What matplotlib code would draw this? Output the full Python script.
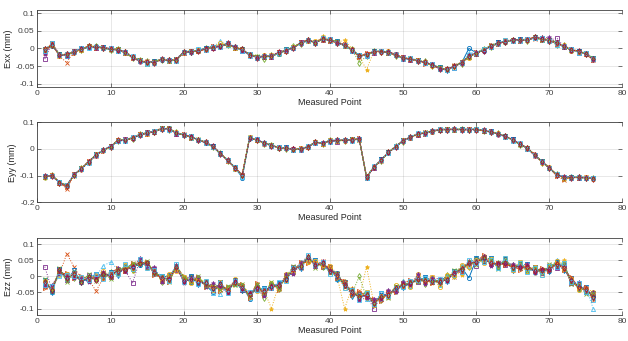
import numpy as np
import matplotlib
matplotlib.use("Agg")
from matplotlib import pyplot as plt

plt.rcParams['font.family'] = ['Liberation Sans', 'DejaVu Sans']
plt.rcParams['axes.unicode_minus'] = False

points = np.arange(1, 77)

# mean curves (mm)
exx_base = [-0.004, 0.010, -0.018, -0.018, -0.009, -0.002, 0.005, 0.004, 0.001, -0.002,
            -0.004, -0.011, -0.025, -0.035, -0.040, -0.038, -0.032, -0.034, -0.032, -0.011,
            -0.009, -0.006, -0.002, 0.004, 0.006, 0.012, 0.004, -0.004, -0.018, -0.025,
            -0.023, -0.021, -0.013, -0.006, 0.003, 0.015, 0.023, 0.017, 0.027, 0.023,
            0.017, 0.008, -0.004, -0.021, -0.018, -0.009, -0.009, -0.011, -0.018, -0.028,
            -0.030, -0.034, -0.040, -0.047, -0.056, -0.061, -0.051, -0.040, -0.023, -0.013,
            -0.004, 0.006, 0.015, 0.020, 0.023, 0.023, 0.025, 0.030, 0.027, 0.023,
            0.015, 0.006, -0.004, -0.009, -0.015, -0.030]
eyy_base = [-0.103, -0.100, -0.125, -0.138, -0.097, -0.074, -0.048, -0.023, -0.004, 0.009,
            0.031, 0.034, 0.041, 0.053, 0.060, 0.066, 0.076, 0.075, 0.060, 0.053,
            0.045, 0.034, 0.025, 0.009, -0.017, -0.042, -0.071, -0.099, 0.041, 0.034,
            0.022, 0.013, 0.005, 0.003, -0.001, 0.000, 0.008, 0.025, 0.022, 0.031,
            0.031, 0.033, 0.034, 0.038, -0.106, -0.068, -0.042, -0.013, 0.009, 0.031,
            0.043, 0.056, 0.060, 0.066, 0.073, 0.073, 0.073, 0.073, 0.073, 0.073,
            0.069, 0.064, 0.056, 0.047, 0.034, 0.018, 0.003, -0.023, -0.048, -0.071,
            -0.097, -0.106, -0.106, -0.107, -0.107, -0.110]
ezz_base = [-0.020, -0.040, 0.015, -0.003, 0.005, -0.013, -0.005, -0.005, 0.003, 0.005,
            0.015, 0.025, 0.027, 0.045, 0.037, 0.015, -0.010, -0.005, 0.027, -0.010,
            -0.010, -0.013, -0.025, -0.035, -0.030, -0.040, -0.020, -0.035, -0.060, -0.033,
            -0.050, -0.030, -0.030, -0.005, 0.020, 0.035, 0.055, 0.040, 0.037, 0.020,
            0.000, -0.025, -0.050, -0.060, -0.060, -0.080, -0.065, -0.055, -0.040, -0.025,
            -0.025, -0.005, -0.015, -0.010, -0.020, -0.005, 0.007, 0.025, 0.037, 0.047,
            0.055, 0.045, 0.035, 0.045, 0.027, 0.033, 0.025, 0.020, 0.015, 0.025,
            0.037, 0.030, -0.015, -0.030, -0.043, -0.060]

# per-run deviations from the mean curve, in micrometres (one row per run)
exx_dev = [
    [2,-3,1,0,-2,1,-1,2,0,-1, 1,-2,0,1,-1,2,0,-2,1,0, -1,2,1,-2,0,1,-1,0,2,-1, 1,0,-2,1,2,-1,0,1,-2,0,
     1,-1,2,0,-1,1,0,-2,1,0, -1,2,0,1,-1,0,2,-1,23,1, -2,0,1,-1,2,0,-1,1,0,-2, 1,0,-1,2,0,1],
    [-8,3,-4,-22,2,-3,1,-2,3,0, -3,1,2,-2,3,-1,2,1,-3,2, 0,-2,3,1,-1,2,-3,1,0,2, -2,3,1,-1,0,3,-2,2,1,-3,
     2,0,-1,-3,2,-2,1,0,3,-1, 2,-3,1,0,2,-1,3,-2,1,-3, 2,1,-2,3,0,-1,2,-3,1,2, 0,-2,3,1,-2,-3],
    [4,-2,3,1,-3,2,0,3,-1,2, -1,3,-2,0,2,-3,1,3,-2,1, 3,-1,0,2,5,-2,3,-1,2,0, 3,-2,1,2,-1,0,3,-3,8,2,
     -1,17,3,-2,-42,1,-2,3,0,2, -3,1,2,-1,3,0,-2,4,3,1, 2,-3,0,2,-1,3,1,2,5,-1, 0,2,-2,1,3,-1],
    [-26,5,2,-3,1,-1,3,-2,1,2, 0,-3,1,2,-2,0,3,-1,2,-3, 1,2,-1,-3,0,2,1,-2,3,-1, 0,-3,2,1,-2,3,0,-1,-2,3,
     1,0,-2,2,1,-3,2,-1,0,3, -2,1,-1,3,0,2,-3,1,0,-2, 3,-1,2,0,-2,1,3,-1,2,0, 15,-2,1,-3,2,0],
    [-3,2,-1,3,0,-2,1,3,-1,-3, 2,0,-2,1,3,-1,-2,2,0,1, -2,1,3,-1,2,-3,0,2,-2,1, -6,2,-1,0,3,-2,1,-3,2,0,
     -2,3,1,-19,-4,2,-1,0,-3,2, 1,-1,3,-2,0,2,1,-3,-2,0, 3,-2,1,-1,2,0,-3,2,1,-2, -5,3,-1,0,-2,1],
    [6,-1,2,-3,1,3,-2,0,2,-1, -3,1,0,-2,-4,3,1,-2,0,2, -1,3,0,1,14,-1,2,0,-3,1, 2,-1,3,-2,0,1,-3,2,0,-2,
     3,-1,0,2,-3,1,3,-2,1,-1, 0,2,-2,1,3,-1,2,0,10,3, -1,2,-3,0,1,-2,3,-1,-3,2, -4,1,0,-2,3,2],
    [-1,1,-2,0,2,-1,0,1,-1,2, 0,-1,1,0,-2,1,-1,0,2,-1, 1,0,-1,2,0,-1,1,-2,0,1, 2,-1,0,1,-1,0,2,-1,1,0,
     -2,1,0,-1,2,0,1,-1,0,2, 0,-1,1,-2,0,1,-1,2,0,-1, 1,0,-2,1,-1,2,0,-1,1,0, 2,-1,0,1,-1,0],
    [1,-2,3,-1,0,2,-3,1,2,-1, 3,0,-2,1,-1,3,-2,0,1,2, -3,1,2,0,-1,3,-2,1,-1,0, 2,-3,1,3,-1,0,-2,2,1,-1,
     3,-2,0,1,-2,3,-1,2,0,-3, 1,2,-1,0,3,-2,1,-1,2,0, -3,1,2,-1,0,3,-2,1,-1,2, 0,-3,1,2,-1,3],
    [-4,6,-1,2,-3,1,0,-2,3,1, -1,2,-3,0,2,-1,3,1,-2,0, 2,-1,-3,2,1,0,-2,3,-1,2, 1,-2,3,0,-3,2,1,-1,3,-2,
     0,4,-1,-3,5,0,2,-1,-2,3, 0,1,-3,2,-1,3,0,-2,1,2, -1,3,-2,0,2,-1,1,3,-2,0, -3,2,1,-1,0,-2],
    [3,1,-3,2,-1,-2,3,0,-1,1, 2,-3,1,2,0,-2,1,-1,3,-2, 0,2,-1,1,8,2,-3,0,1,-2, 3,1,-1,-2,2,0,-1,3,-2,1,
     -2,0,3,-1,1,-2,0,3,-1,2, -1,0,2,-3,1,-1,2,0,-3,1, 2,0,-1,3,-2,1,0,-1,3,-2, 1,3,-2,0,1,-1],
    [-12,2,-1,-3,3,0,-2,1,3,-1, 0,2,-1,-3,1,2,-2,0,3,1, -1,-2,2,3,-1,0,1,-3,2,0, -2,1,3,-1,0,-2,2,1,-3,0,
     2,-1,1,0,-3,2,-1,1,3,-2, 0,-1,2,1,-3,0,2,-1,1,3, -2,0,1,-3,2,1,-1,0,4,8, 2,1,-3,0,1,-2],
    [0,-1,2,-2,1,-3,2,0,1,-2, 3,-1,0,2,-3,1,2,-2,-1,0, 3,-2,1,0,2,-1,-3,1,2,3, -1,0,-2,3,1,-1,2,-3,0,1,
     3,-2,0,1,-2,1,3,-1,-2,0, 2,-2,1,-1,3,0,-1,2,0,-2, 1,3,-1,-2,0,2,-1,1,-3,1, 3,-2,0,-1,2,3],
    [-2,4,0,1,-1,2,-3,1,0,3, -2,1,3,-1,0,-2,1,2,-3,1, 0,3,-2,1,-1,2,0,-3,1,-1, 2,0,-1,2,-3,1,0,-2,2,3,
     -1,1,-3,2,0,-1,2,1,-2,0, 3,-1,0,2,-2,1,-3,0,4,1, 2,-1,0,3,-2,0,1,-1,2,-3, 0,1,2,-3,1,0],
    [1,0,-1,1,-2,0,2,-1,1,0, -1,2,0,-1,1,-2,1,0,-1,2, 0,-1,1,-2,0,2,-1,1,0,-1, 1,-1,2,0,-1,1,0,-2,1,0,
     -1,2,0,-1,1,-1,0,2,-1,1, 0,-2,1,0,-1,2,0,-1,1,0, -2,1,0,-1,2,0,-1,1,0,-2, 1,0,-1,2,-1,0],
]
eyy_dev = [
    [-2,1,0,-1,2,0,1,-1,0,2, -1,0,1,-2,0,1,-1,2,0,-1, 1,0,-2,1,0,-1,2,-8,0,1, -1,0,2,-1,0,1,-2,0,1,-1,
     0,2,-1,0,-3,1,0,-1,2,0, -1,1,0,-2,1,0,2,-1,0,1, -1,0,2,-1,1,0,-2,1,0,-1, 1,0,-1,2,0,-1],
    [3,-2,1,-12,-1,2,0,-3,1,-2, 2,-1,3,0,-2,1,3,-1,-2,2, 0,1,-3,2,-1,0,3,-2,1,0, -2,3,-1,0,2,-3,1,0,-2,3,
     1,-1,2,-3,3,0,-2,1,3,-1, 0,-3,2,1,-1,3,-2,0,1,-3, 2,0,-1,3,-2,1,0,-3,2,1, -1,-12,2,-3,1,0],
    [-4,2,3,-1,0,-3,2,1,-2,0, 3,-2,-1,2,3,0,-2,1,3,-1, -2,2,0,-3,1,2,-1,3,0,-2, 1,2,-3,0,1,-1,3,-2,0,2,
     -1,3,0,1,-4,2,-1,3,0,-2, 2,-1,3,0,-2,1,-3,2,1,0, -2,3,1,-1,0,2,-3,1,-2,3, 0,-8,-3,1,2,-2],
    [1,-3,-2,2,1,0,-2,3,-1,1, -2,3,0,-1,2,-3,1,0,-2,1, 3,-1,2,0,-3,1,0,2,-1,3, 0,-2,1,2,-3,0,1,-1,2,0,
     -3,1,2,-1,1,-2,3,0,-1,2, 1,-2,0,3,-1,2,0,-3,1,2, -1,1,0,-2,3,-1,2,0,-1,-2, 1,2,-1,0,-3,2],
    [-1,2,-1,1,-2,3,-1,0,2,-3, 0,1,-2,3,1,-1,0,-3,2,1, -1,0,2,-1,3,-2,1,0,2,-1, -2,1,0,-3,2,1,-1,3,-2,1,
     2,-3,1,0,2,-1,-2,2,1,-3, 3,0,-1,2,-2,0,1,3,-1,2, 0,-2,3,1,-1,-2,1,2,-3,0, 2,-3,1,2,0,1],
    [2,0,-2,3,-1,-2,1,2,0,-1, 1,-3,2,1,0,2,-2,-1,1,3, -2,1,-1,3,0,2,-3,-6,1,-2, 3,1,-1,0,2,-2,0,2,-1,-3,
     2,0,-2,3,-1,1,2,-3,0,1, -1,3,-2,0,2,1,-1,0,3,-2, 1,-1,2,0,-3,1,0,2,-1,1, -2,1,3,-1,-2,1],
    [0,-1,1,0,-1,1,0,-1,1,0, -1,1,0,-1,1,0,-1,1,0,-1, 1,0,-1,1,0,-1,1,0,-1,1, 0,-1,1,0,-1,1,0,-1,1,0,
     -1,1,0,-1,1,0,-1,1,0,-1, 1,0,-1,1,0,-1,1,0,-1,1, 0,-1,1,0,-1,1,0,-1,1,0, -1,1,0,-1,1,0],
    [2,-1,3,-2,0,1,-2,3,-1,2, 0,-3,1,2,-1,0,3,-2,1,-1, 2,0,-3,1,2,-1,3,-4,-2,1, 0,2,-1,3,-2,0,1,-1,2,-3,
     1,0,2,-2,2,-1,3,0,-2,1, 2,-1,0,3,-2,1,-1,2,0,-3, 1,2,-1,0,3,-2,1,-1,2,0, -3,1,2,-1,0,2],
    [-3,1,-2,-6,2,0,3,-1,-2,1, 3,0,-1,2,-3,1,0,2,-1,3, -2,1,0,-1,2,-3,1,3,0,-2, 1,-1,3,0,-2,2,-1,1,-3,0,
     2,1,-2,3,-1,0,2,-3,1,-1, 3,0,-2,1,2,-1,3,-2,0,1, -1,2,0,-3,1,2,-2,3,0,-1, -3,-8,1,0,-2,3],
    [1,3,-1,0,-2,2,-1,3,0,-2, 1,-1,2,3,-2,0,1,-1,2,0, 3,-2,1,-1,0,2,-3,1,3,0, -1,2,-2,1,0,3,-1,2,-3,1,
     0,-2,3,1,2,-1,0,-2,3,1, -1,2,0,-2,1,3,-1,0,2,-2, 1,0,3,-1,-2,0,2,1,-3,2, 0,-1,-4,2,1,-1],
    [0,2,-3,1,-1,0,3,-2,1,2, -1,0,-2,1,3,-1,2,0,-3,1, 2,-1,3,0,-2,1,-1,2,0,3, -2,1,0,-1,3,-2,2,0,-1,1,
     3,-2,0,2,1,-3,1,-1,2,0, -2,3,1,-1,0,2,-2,1,3,-1, 0,2,-3,1,-1,2,0,-2,1,3, -1,0,2,-2,1,0],
    [-2,0,1,3,-3,1,0,2,-1,-2, 3,1,-1,0,2,-2,1,3,-1,0, -2,2,1,-3,0,1,2,-1,3,-2, 0,1,-1,2,-3,0,2,1,-2,3,
     -1,0,1,-3,2,2,-1,0,1,-2, 3,-1,2,0,-3,1,0,2,-1,3, -2,1,0,2,-1,-3,1,0,2,-1, 3,-3,0,1,-2,2],
    [3,-2,0,2,1,-1,-3,1,2,0, -2,1,3,-1,0,2,-1,-2,1,0, 3,-1,2,0,-3,1,2,-5,-1,2, 0,-3,1,2,-1,0,3,-2,1,-1,
     2,0,-3,1,-2,3,0,-1,2,-2, 1,3,-1,0,2,-3,1,-1,0,2, 3,-2,1,-1,0,3,-2,0,1,-1, 2,0,-2,3,-1,0],
    [1,0,-1,0,1,-1,0,1,0,-1, 1,0,-1,1,0,-1,0,1,-1,0, 1,-1,0,1,0,-1,1,0,-1,0, 1,0,-1,1,0,-1,1,0,-1,0,
     1,-1,0,1,0,-1,0,1,-1,0, 1,0,-1,1,0,-1,1,0,-1,0, 1,-1,0,1,0,-1,0,1,-1,0, 1,0,-1,1,0,-1],
]
ezz_dev = [
    [-8,5,-3,10,-6,4,-9,7,3,-5, 8,-4,6,-10,3,-7,5,9,-4,2, -6,8,-3,-14,5,-8,4,6,-9,3, -5,7,-2,4,-8,6,-3,5,-7,2,
     9,-4,6,-8,3,-5,7,-2,4,-9, 5,-3,8,-6,2,7,-4,3,-42,6, -8,4,-5,9,-3,6,-7,2,5,-9, 12,-4,6,-8,3,-5],
    [-12,6,-8,73,25,3,-5,-40,-9,4, -6,9,-3,7,-8,5,-4,10,-7,3, 8,-5,4,-9,6,-3,8,-6,4,-10, 7,-4,9,-5,3,-8,6,-2,10,-6,
     4,-8,5,-3,7,-6,3,-9,8,-4, 6,-7,3,9,-5,4,-8,6,-3,7, -9,5,-4,8,-6,3,-7,5,-3,9, -5,6,-10,4,-7,5],
    [5,-9,4,-7,10,-4,6,-5,-8,3, -7,5,-9,4,-6,8,-3,7,-5,6, -4,9,-6,3,-8,5,-7,4,10,-3, 6,-70,5,-8,4,-6,9,-4,7,-5,
     -3,-75,15,-6,90,-4,8,-5,6,-7, 4,-9,5,-12,6,-4,8,-22,3,-5, 7,-6,4,-8,5,-3,-10,6,-4,8, -6,20,-5,7,-3,-8],
    [50,-4,7,-9,5,-6,8,-3,6,-7, 4,-8,-47,5,-9,7,-4,6,-8,3, 9,-5,4,-7,6,-3,8,-6,5,-9, 3,-6,7,-4,9,-5,6,-8,4,-6,
     8,-3,5,-7,4,-22,6,-4,8,-5, 7,-12,4,-6,9,-3,5,-8,6,-15, 4,-7,5,-9,3,6,-5,8,-4,7, -10,5,-7,4,-6,9],
    [-6,8,-5,4,-9,6,-3,7,-5,9, -4,6,-8,3,-7,5,-9,4,6,-3, 7,-5,8,-4,6,-9,3,-7,5,-4, -18,6,-9,5,-3,7,-6,4,-8,6,
     -5,9,-4,60,-6,3,-8,5,-4,7, -6,4,-9,6,-3,8,-5,4,-7,6, 3,-8,5,-4,9,-6,4,-7,5,-3, 8,-6,4,-9,5,-4],
    [3,-7,6,-4,8,-5,9,5,30,40, 6,-4,8,-6,3,-9,5,-3,7,-5, 4,-8,6,-18,-25,7,-4,5,-8,4, -6,8,-3,6,-5,9,-4,7,-6,3,
     -8,5,-4,7,-9,4,-6,8,-3,10, -5,7,-4,6,-8,5,-3,9,-6,4, 8,-5,7,-3,6,-8,4,-6,9,-5, 14,-7,5,-4,8,-40],
    [-3,2,-2,3,-1,2,-3,1,-2,3, -1,2,-3,1,-2,3,-1,2,-3,1, -2,3,-1,2,-3,1,-2,3,-1,2, -3,1,-2,3,-1,2,-3,1,-2,3,
     -1,2,-3,1,-2,3,-1,2,-3,1, -2,3,-1,2,-3,1,-2,3,-1,2, -3,1,-2,3,-1,2,-3,1,-2,3, -1,2,-3,1,-2,3],
    [10,-12,7,-5,14,-8,3,11,-6,9, -13,5,8,-11,4,-7,12,-9,6,-4, 10,-14,7,-3,12,-6,9,-11,5,-8, 13,-4,10,-7,6,-12,3,11,-5,8,
     -10,6,-13,4,9,-7,12,-5,8,-11, 6,-9,13,-4,7,-12,10,-6,3,11, -7,13,-5,9,-11,4,12,-8,6,-10, 7,-13,9,-5,11,-6],
    [-15,9,-6,12,-10,13,-4,8,-12,6, 10,-7,14,-5,9,-11,7,-13,4,10, -6,12,-9,5,-14,8,-3,11,-7,13, -9,5,-12,8,-4,10,-13,6,-8,12,
     -5,11,-7,14,-3,9,-12,6,-10,4, 13,-8,5,-11,10,-4,7,-13,9,-6, 12,-3,8,-10,5,-12,9,-4,11,-7, 4,-9,13,-6,10,-14],
    [7,4,-11,9,-5,12,-9,6,14,-3, -8,11,-4,10,-12,6,-5,13,-9,7, -11,4,10,-8,13,-5,11,-3,8,-12, 5,10,-6,12,-9,4,-11,8,-3,13,
     7,-12,9,-5,11,-8,4,-10,13,-6, -9,12,-4,7,-13,10,-6,11,-8,5, -12,8,-3,11,-7,13,-5,9,-12,4, 10,-6,8,-11,5,12],
    [-9,13,-7,5,-11,8,-13,4,10,-6, 12,-9,3,11,-8,13,-6,-4,9,-12, 5,10,-7,13,-4,-11,8,-6,12,-3, -10,7,-5,11,-13,6,8,-9,12,-4,
     10,-6,11,-13,-7,10,-4,12,-9,6, -3,11,-8,4,13,-10,6,-5,12,-8, 9,-12,5,-6,11,-4,13,-9,7,-5, -12,8,-6,13,-9,10],
    [12,-6,10,-13,7,-4,11,-9,5,-12, 8,-3,13,-7,10,-5,12,-11,4,9, -8,13,-4,6,-11,9,-7,12,-5,10, -3,11,-8,4,12,-7,9,-13,5,-10,
     11,-6,8,-4,12,-9,5,-12,10,-3, 8,-11,6,-7,9,-4,13,-6,10,-12, 4,9,-11,7,-5,12,-8,10,-6,13, -4,11,-9,6,-12,8],
    [-6,10,-13,8,-3,11,-7,12,-10,5, -9,13,-5,9,-11,4,10,-8,12,-6, 3,-10,11,-5,9,-12,6,-4,13,-8, 10,-5,12,-9,7,-3,11,-6,9,-13,
     4,-10,7,-12,8,-5,13,-7,3,-9, 11,-6,10,-3,12,-8,5,-10,13,-4, -11,7,-9,12,-4,8,-13,5,-10,6, -8,12,-4,10,-7,-13],
    [4,-3,5,-2,3,-4,2,-5,4,-3, 2,-4,3,-2,5,-3,4,-2,3,-5, 2,-3,4,-2,5,-4,3,-2,4,-3, 5,-2,3,-4,2,-3,5,-4,3,-2,
     4,-3,2,-5,3,-4,2,-3,5,-2, 3,-4,2,-3,4,-5,3,-2,4,-3, 2,-5,3,-4,2,-3,4,-2,5,-3, 2,-4,3,-2,4,-5],
]

colors = ['#0072BD', '#D95319', '#EDB120', '#7E2F8E', '#77AC30', '#4DBEEE', '#A2142F'] * 2
markers = ['o', 'x', '*', 's', 'd', '^', '+', 'v', '>', 'o', '*', 'x', 's', 'd']
styles = ['-', ':', ':', ':', ':', ':', '-', ':', '--', ':', ':', '--', ':', ':']

fig = plt.figure(figsize=(6.28, 3.41), dpi=100)
boxes = [[0.0597, 0.744, 0.9315, 0.228],
         [0.0597, 0.4067, 0.9315, 0.2346],
         [0.0597, 0.0762, 0.9315, 0.2267]]
panels = [
    (exx_base, exx_dev, 'Exx (mm)', (-0.11, 0.11), [-0.1, -0.05, 0, 0.05, 0.1]),
    (eyy_base, eyy_dev, 'Eyy (mm)', (-0.2, 0.1), [-0.2, -0.1, 0, 0.1]),
    (ezz_base, ezz_dev, 'Ezz (mm)', (-0.12, 0.12), [-0.1, -0.05, 0, 0.05, 0.1]),
]
tc = '#262626'
for box, (base, dev, lab, ylim, yt) in zip(boxes, panels):
    ax = fig.add_axes(box)
    base = np.array(base)
    for k, d in enumerate(dev):
        ax.plot(points, base + np.array(d) / 1000.0, linestyle=styles[k],
                marker=markers[k], color=colors[k], lw=0.7, ms=3, mew=0.6,
                mfc='none' if markers[k] in 'osd^v>' else colors[k],
                zorder=2 if styles[k] == '-' else 3)
    ax.set_xlim(0, 80)
    ax.set_ylim(*ylim)
    ax.set_yticks(yt)
    ax.set_yticklabels(['%g' % v for v in yt])
    ax.set_xticks(range(0, 81, 10))
    ax.grid(True, color=tc, alpha=0.12, lw=0.6)
    ax.tick_params(direction='in', length=3, width=0.5, labelsize=6, colors='#404040',
                   pad=2, top=True, right=True)
    for s in ['left', 'bottom', 'top']:
        ax.spines[s].set_color('#404040')
        ax.spines[s].set_linewidth(0.6)
    ax.spines['right'].set_visible(False)
    ax.set_ylabel(lab, fontsize=6.5, color=tc, labelpad=2)
    ax.set_xlabel('Measured Point', fontsize=6.5, color=tc, labelpad=1)

fig.savefig('out.png', dpi=100)
